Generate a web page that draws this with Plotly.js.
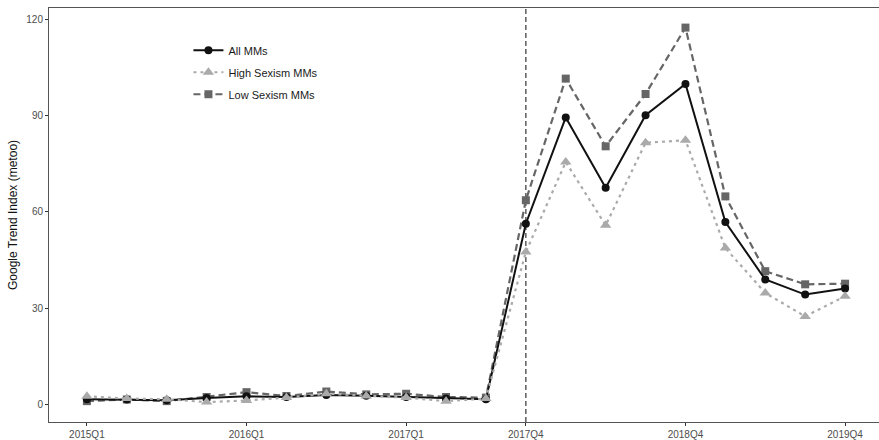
<!DOCTYPE html>
<html>
<head>
<meta charset="utf-8">
<script src="https://cdn.plot.ly/plotly-3.0.1.min.js"></script>
<style>html,body{margin:0;padding:0;background:#fff;}#chart{width:879px;height:440px;}</style>
</head>
<body>
<div id="chart"></div>
<script>
var quarters = ['2015Q1','2015Q2','2015Q3','2015Q4','2016Q1','2016Q2','2016Q3','2016Q4',
                '2017Q1','2017Q2','2017Q3','2017Q4','2018Q1','2018Q2','2018Q3','2018Q4',
                '2019Q1','2019Q2','2019Q3','2019Q4'];
var allMMs  = [1.6, 1.5, 1.3, 2.0, 2.5, 2.3, 2.9, 2.7, 2.3, 1.8, 1.6, 56.3, 89.4, 67.5, 90.1, 99.8, 56.8, 38.9, 34.2, 36.1];
var highMMs = [2.5, 1.8, 1.6, 0.7, 1.2, 2.1, 3.3, 2.6, 2.1, 1.0, 1.8, 47.5, 75.5, 55.8, 81.5, 82.3, 48.7, 34.7, 27.4, 33.7];
var lowMMs  = [1.0, 1.5, 1.0, 2.3, 3.8, 2.6, 4.0, 3.1, 3.3, 2.3, 2.1, 63.6, 101.5, 80.4, 96.7, 117.4, 64.8, 41.5, 37.4, 37.6];
var tickQuarters = ['2015Q1','2016Q1','2017Q1','2017Q4','2018Q4','2019Q4'];
var eventQuarter = '2017Q4';

var traces = [
  {x: quarters, y: lowMMs, name: 'Low Sexism MMs', mode: 'lines+markers', legendgroup: 'c', legendrank: 3,
   line: {color: '#666666', width: 2.2, dash: '7px,4px'}, marker: {symbol: 'square', size: 8, color: '#666666'}},
  {x: quarters, y: allMMs, name: 'All MMs', mode: 'lines+markers', legendgroup: 'a', legendrank: 1,
   line: {color: '#111111', width: 2}, marker: {symbol: 'circle', size: 8, color: '#111111'}},
  {x: quarters, y: highMMs, name: 'High Sexism MMs', mode: 'lines+markers', legendgroup: 'b', legendrank: 2,
   line: {color: '#aaaaaa', width: 2.2, dash: '3px,4px'}, marker: {symbol: 'triangle-up', size: 10, color: '#aaaaaa'}}
];

var layout = {
  width: 879, height: 440,
  margin: {l: 49, r: 0, t: 8, b: 18},
  paper_bgcolor: '#ffffff', plot_bgcolor: '#ffffff',
  font: {family: 'Liberation Sans, Arial, sans-serif', color: '#4d4d4d', size: 10},
  showlegend: true,
  legend: {x: 0.168, y: 0.933, xanchor: 'left', yanchor: 'top', bgcolor: 'rgba(0,0,0,0)',
           font: {size: 11, color: '#1a1a1a'}, tracegroupgap: 3, traceorder: 'grouped', itemwidth: 30},
  xaxis: {type: 'category', categoryorder: 'array', categoryarray: quarters,
          range: [-0.95, 19.85], tickmode: 'array', tickvals: tickQuarters, ticktext: tickQuarters,
          showgrid: false, zeroline: false, showline: true, mirror: true, linecolor: '#555555', linewidth: 1,
          ticks: 'outside', ticklen: 3, tickcolor: '#333333', tickwidth: 1, tickfont: {size: 10, color: '#4d4d4d'}},
  yaxis: {range: [-5.5, 123.5], tickvals: [0, 30, 60, 90, 120], showgrid: false, zeroline: false,
          showline: true, linecolor: '#555555', linewidth: 1,
          ticks: 'outside', ticklen: 3, tickcolor: '#333333', tickwidth: 1, tickfont: {size: 10, color: '#4d4d4d'},
          title: {text: 'Google Trend Index (metoo)', font: {size: 12, color: '#111111'}, standoff: 6}},
  shapes: [{type: 'line', xref: 'x', yref: 'paper', x0: eventQuarter, x1: eventQuarter, y0: 0, y1: 1,
            line: {color: '#444444', width: 1.3, dash: '5px,3px'}, layer: 'below'}]
};
Plotly.newPlot('chart', traces, layout, {displayModeBar: false, staticPlot: true});
</script>
</body>
</html>
